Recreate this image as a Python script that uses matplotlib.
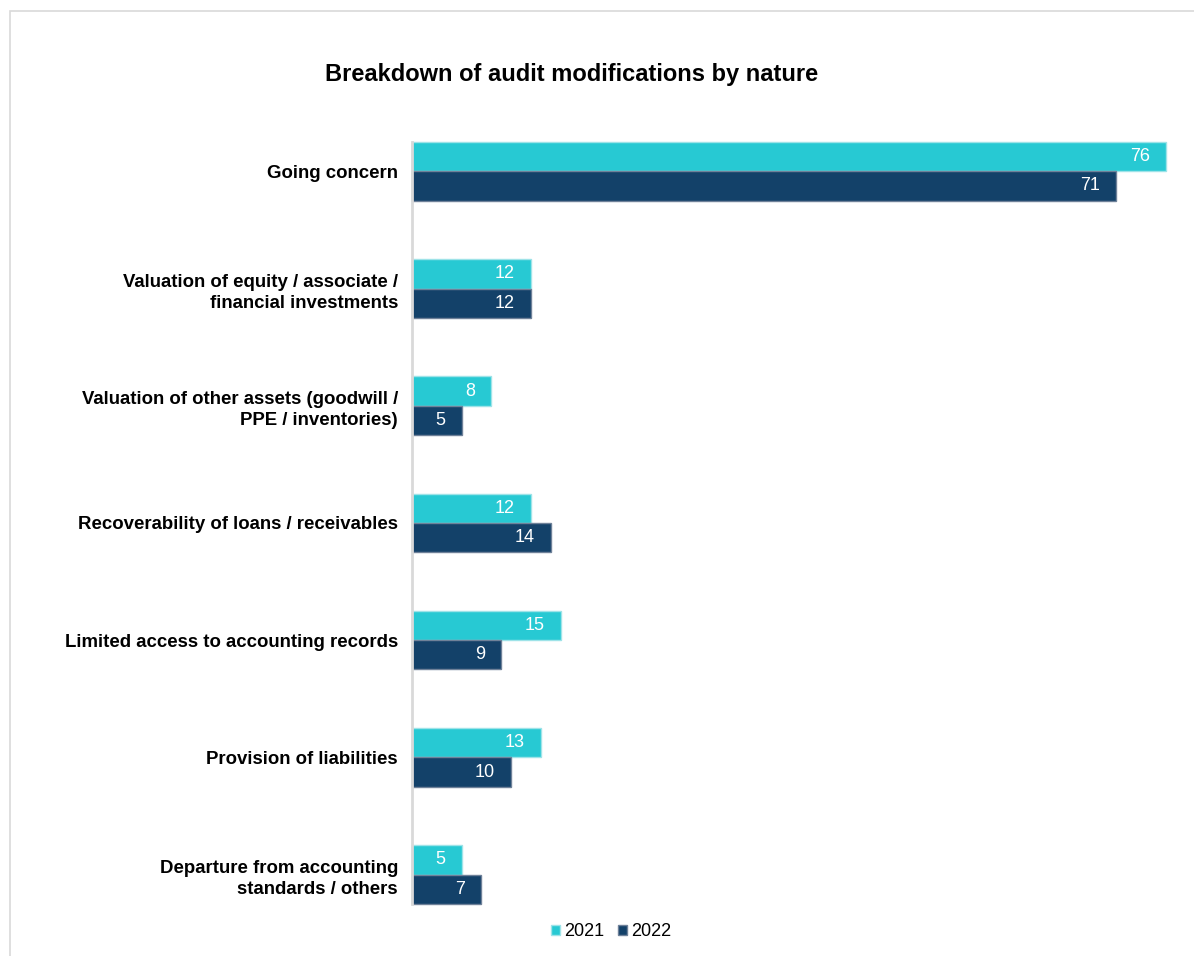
import matplotlib
matplotlib.use("Agg")
import matplotlib.pyplot as plt
from matplotlib.patches import Patch, Rectangle
import numpy as np

plt.rcParams["font.family"] = ["Liberation Sans", "DejaVu Sans"]

categories = [
    "Going concern",
    "Valuation of equity / associate /\nfinancial investments",
    "Valuation of other assets (goodwill /\nPPE / inventories)",
    "Recoverability of loans / receivables",
    "Limited access to accounting records",
    "Provision of liabilities",
    "Departure from accounting\nstandards / others",
]
values_2021 = [76, 12, 8, 12, 15, 13, 5]
values_2022 = [71, 12, 5, 14, 9, 10, 7]
series_names = ["2021", "2022"]
title = "Breakdown of audit modifications by nature"

color_2021 = "#27C9D3"
color_2022 = "#134169"
edge_2021 = "#9EE3E8"
edge_2022 = "#6F8199"

W, H = 1194, 956
fig = plt.figure(figsize=(W / 100, H / 100), dpi=100)

# light outer frame (open to the right and bottom)
fig.patches.append(Rectangle((10 / W, -0.2), 1.2, 1.2 - 11 / H, transform=fig.transFigure,
                             fill=False, edgecolor="#D9D9D9", linewidth=1.2))

ax = fig.add_axes([412 / W, 1 - 904 / H, (1166 - 412) / W, (904 - 142) / H])

y = np.arange(len(categories))
h = 0.25
ax.barh(y - h / 2, values_2021, height=h, color=color_2021,
        edgecolor=edge_2021, linewidth=1, clip_on=False)
ax.barh(y + h / 2, values_2022, height=h, color=color_2022,
        edgecolor=edge_2022, linewidth=1, clip_on=False)

for yy, v in zip(y - h / 2, values_2021):
    ax.annotate(str(v), xy=(v, yy), xytext=(-16, 0), textcoords="offset pixels",
                ha="right", va="center", color="white", fontsize=13)
for yy, v in zip(y + h / 2, values_2022):
    ax.annotate(str(v), xy=(v, yy), xytext=(-16, 0), textcoords="offset pixels",
                ha="right", va="center", color="white", fontsize=13)

ax.set_xlim(0, 76)
ax.set_ylim(len(categories) - 1 + h + 0.001, -h)
ax.set_yticks(y)
ax.set_yticklabels(categories, fontsize=13.4, fontweight="bold", color="#000000",
                   linespacing=1.35)
ax.tick_params(axis="y", length=0, pad=10)
ax.set_xticks([])
for side in ["top", "right", "bottom"]:
    ax.spines[side].set_visible(False)
ax.spines["left"].set_color("#D9D9D9")
ax.spines["left"].set_linewidth(2)
ax.patch.set_visible(False)

fig.text(572 / W, 1 - 75 / H, title, ha="center", va="center",
         fontsize=17, fontweight="bold", color="#000000")

handles = [Patch(facecolor=color_2021, edgecolor=edge_2021),
           Patch(facecolor=color_2022, edgecolor=edge_2022)]
fig.legend(handles, series_names, loc="center", bbox_to_anchor=(611 / W, 1 - 932 / H),
           ncol=2, frameon=False, fontsize=13, handlelength=0.5, handleheight=0.5,
           handletextpad=0.2, columnspacing=0.8, borderpad=0)

fig.savefig("out.png", dpi=100)
